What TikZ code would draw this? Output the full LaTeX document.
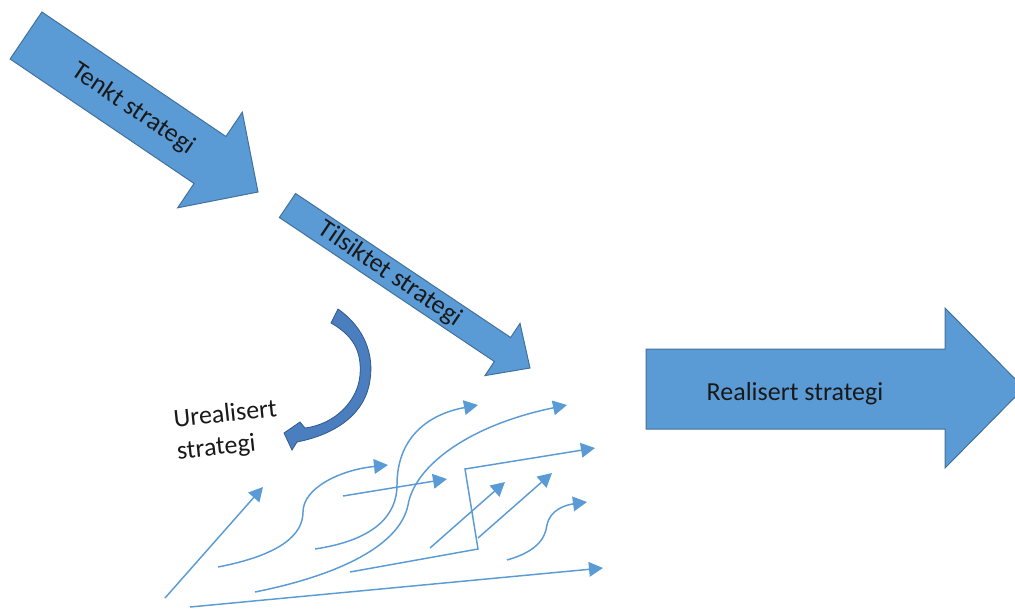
\documentclass[tikz,border=0pt]{standalone}
\usepackage{fontspec}
\setmainfont{Carlito}
\usetikzlibrary{arrows.meta}
\definecolor{bfill}{HTML}{5B9BD5}
\definecolor{bline}{HTML}{41719C}
\definecolor{cfill}{RGB}{74,126,190}
\definecolor{cline}{RGB}{50,90,140}
\begin{document}
\begin{tikzpicture}[x=0.75pt,y=-0.75pt,
  bigarrow/.style={fill=bfill,draw=bline,line width=0.75pt,line join=miter},
  curvearrow/.style={fill=cfill,draw=cline,line width=0.6pt,line join=miter},
  flow/.style={draw=bfill,line width=1.1pt,-{Triangle[length=10.5pt,width=11pt]}},
  lbl/.style={font=\fontsize{19.5}{24}\selectfont,inner sep=0pt,text=black!90}]
\useasboundingbox (0,0) rectangle (1015,608);
\clip (0,0) rectangle (1015,608);

% big block arrows
\draw[bigarrow] (41.9,12) -- (225.9,136.5) -- (242.3,112.2) -- (258,192) -- (177.7,207.8) -- (194.1,183.5) -- (10.1,59) -- cycle;
\draw[bigarrow] (295.6,193.5) -- (510.6,337.5) -- (520,323.4) -- (530,368) -- (485,375.6) -- (494.4,361.5) -- (279.4,217.5) -- cycle;
\draw[bigarrow] (646,349) -- (945,349) -- (945,308) -- (1024,388) -- (945,468) -- (945,429) -- (646,429) -- cycle;

% curved arrow
\draw[curvearrow] (338,309) .. controls (365,328) and (374,355) .. (370,380)
  .. controls (366,412) and (338,434) .. (297,442)
  -- (292,450) -- (284,433) -- (300,422) -- (305,428)
  .. controls (336,424) and (358,400) .. (360,375)
  .. controls (362,350) and (352,335) .. (331,323) -- cycle;

% thin flow arrows
\draw[flow] (165,598) -- (263,487);
\draw[flow] (190,607) -- (603,568);
\draw[flow] (218,567) .. controls (280,555) and (303,535) .. (303,512) .. controls (303,488) and (340,470) .. (388,465);
\draw[flow] (315,549) .. controls (375,540) and (397,515) .. (397,485) .. controls (397,440) and (425,415) .. (478,405);
\draw[flow] (255,592) .. controls (340,575) and (400,545) .. (408,505) .. controls (415,465) and (470,425) .. (567,405);
\draw[flow] (343,496) -- (447,479);
\draw[flow] (350,572) -- (478,549) -- (465,469) -- (595,448);
\draw[flow] (430,548) -- (505,482);
\draw[flow] (478,538) -- (552,473);
\draw[flow] (507,560) .. controls (535,552) and (545,540) .. (547,525) .. controls (550,510) and (565,505) .. (587,502);

% labels
\node[lbl,rotate=-34] (tenkt) at (133,109) {Tenkt strategi};
\node[lbl,rotate=-34] (tils) at (390,274) {Tilsiktet strategi};
\node[lbl,anchor=base] (real) at (795,400) {Realisert strategi};
\node[lbl,rotate=6,align=left] (ureal) at (227,431) {Urealisert\\strategi};
\end{tikzpicture}
\end{document}
